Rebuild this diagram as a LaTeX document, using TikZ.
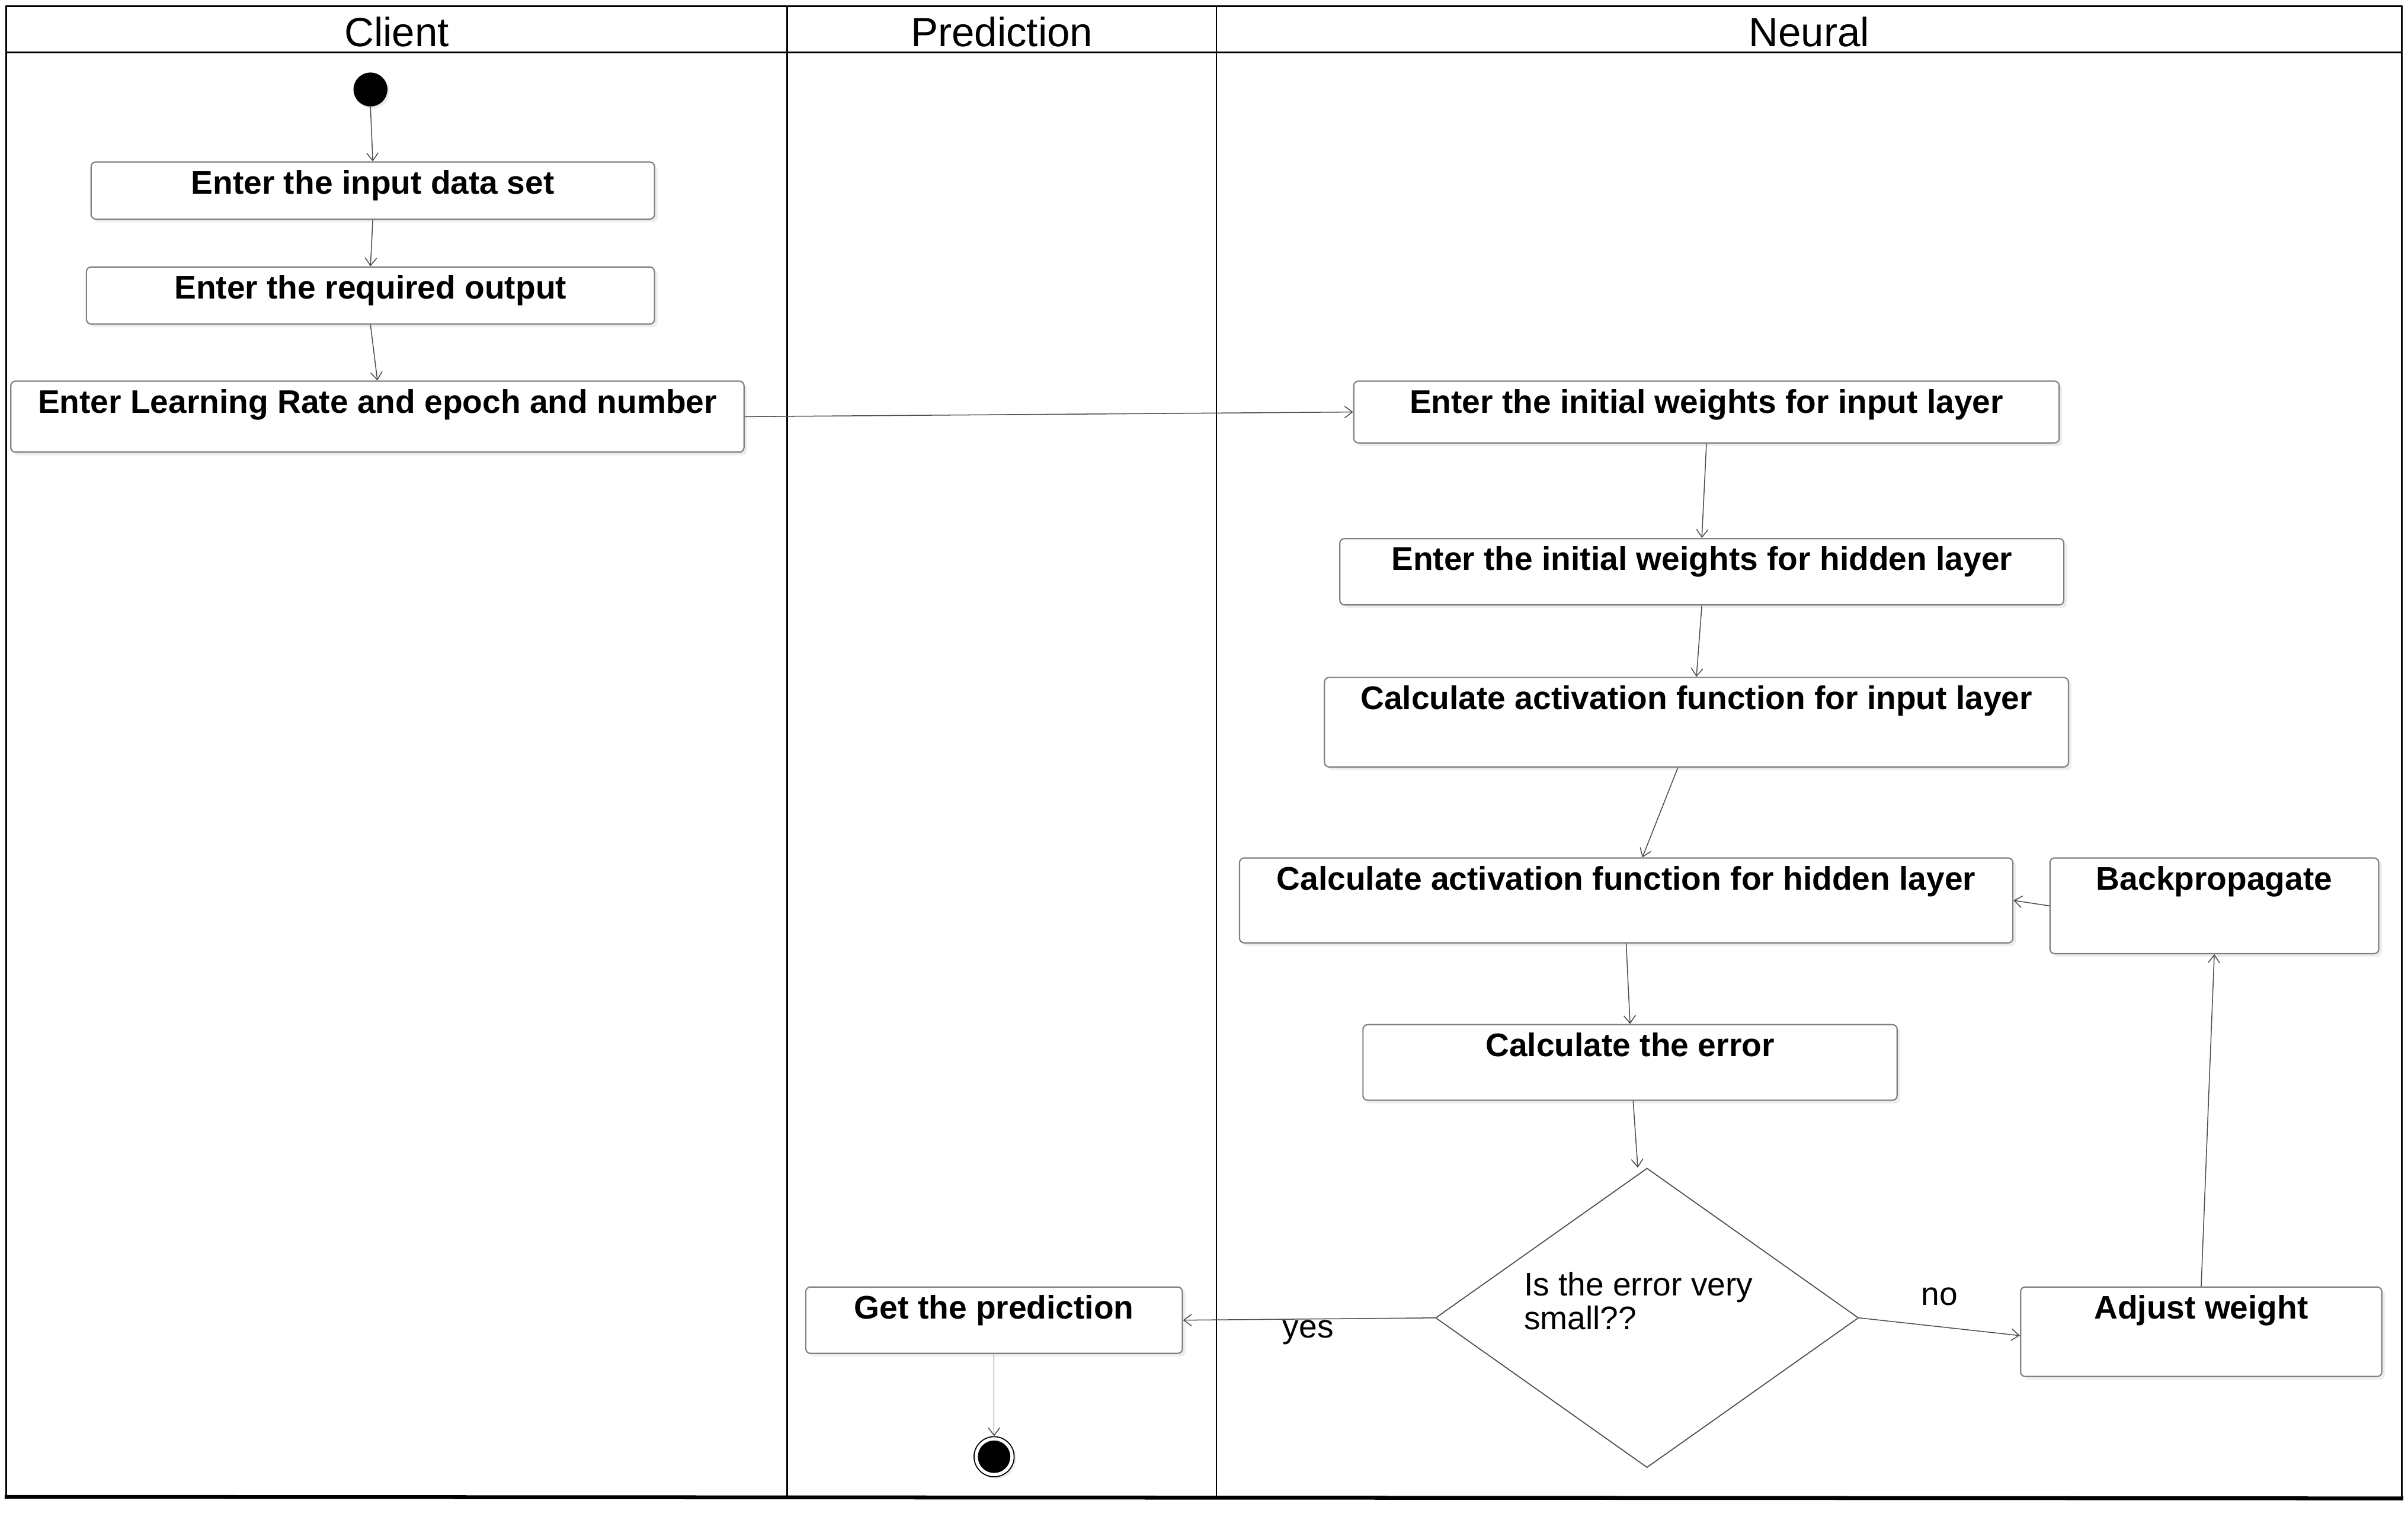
\documentclass[tikz,border=0pt]{standalone}
\usepackage{fontspec}
\setmainfont{Liberation Sans}
\usetikzlibrary{arrows.meta,shapes.geometric,shadows,calc}
\begin{document}
\begin{tikzpicture}[x=0.6pt,y=-0.6pt,
  box/.style={draw=black!50, line width=0.5pt, rounded corners=1.8pt, fill=white, inner sep=0pt,
    drop shadow={shadow xshift=1.2pt, shadow yshift=-1.2pt, fill=black!7, opacity=1}},
  lbl/.style={anchor=base, font=\bfseries\fontsize{12.7pt}{15pt}\selectfont, inner sep=0pt},
  txt/.style={font=\fontsize{12.7pt}{13.2pt}\selectfont, inner sep=0pt},
  hdr/.style={anchor=base, font=\fontsize{15.9pt}{18pt}\selectfont, inner sep=0pt},
  flow/.style={draw=black!70, line width=0.35pt, -{Straight Barb[length=3pt,width=4.5pt]}},
  lane/.style={draw=black, line width=0.6pt}]
\useasboundingbox (0,0) rectangle (1560,983);
% frame and lanes
\draw[lane] (4,970) -- (4,4) -- (1556,4) -- (1556,970);
\draw[line width=1.5pt] (3,970) -- (1557,971);
\draw[lane] (4,34) -- (1556,34);
\draw[lane] (510,4) -- (510,970);
\draw[lane] (788,4) -- (788,970);
\node[hdr] (hc) at (257,30) {Client};
\node[hdr] (hp) at (649,30) {Prediction};
\node[hdr] (hn) at (1172,30) {Neural};
% start
\node[circle, fill=black, minimum size=13.2pt, inner sep=0pt,
  drop shadow={shadow xshift=0.8pt, shadow yshift=-0.8pt, fill=black!8, opacity=1}] (start) at (240,58) {};
% boxes
\node[box, minimum width=219pt, minimum height=22.2pt] (b2) at (241.5,123.5) {};
\node[lbl] at ([yshift=-12.6pt]b2.north) {Enter the input data set};
\node[box, minimum width=220.8pt, minimum height=22.2pt] (b3) at (240,191.5) {};
\node[lbl] at ([yshift=-12.6pt]b3.north) {Enter the required output};
\node[box, minimum width=285pt, minimum height=27.6pt] (b4) at (244.5,270) {};
\node[lbl] at ([yshift=-12.6pt]b4.north) {Enter Learning Rate and epoch and number};
\node[box, minimum width=274.2pt, minimum height=24pt] (b5) at (1105.5,267) {};
\node[lbl] at ([yshift=-12.6pt]b5.north) {Enter the initial weights for input layer};
\node[box, minimum width=281.4pt, minimum height=25.8pt] (b6) at (1102.5,370.5) {};
\node[lbl] at ([yshift=-12.6pt]b6.north) {Enter the initial weights for hidden layer};
\node[box, minimum width=289.2pt, minimum height=34.8pt] (b7) at (1099,468) {};
\node[lbl] at ([yshift=-12.6pt]b7.north) {Calculate activation function for input layer};
\node[box, minimum width=300.6pt, minimum height=33pt] (b8) at (1053.5,583.5) {};
\node[lbl] at ([yshift=-12.6pt]b8.north) {Calculate activation function for hidden layer};
\node[box, minimum width=127.8pt, minimum height=37.2pt] (b9) at (1434.5,587) {};
\node[lbl] at ([yshift=-12.6pt]b9.north) {Backpropagate};
\node[box, minimum width=207.6pt, minimum height=29.4pt] (b10) at (1056,688.5) {};
\node[lbl] at ([yshift=-12.6pt]b10.north) {Calculate the error};
\node[box, minimum width=140.4pt, minimum height=34.8pt] (b12) at (1426,863) {};
\node[lbl] at ([yshift=-12.6pt]b12.north) {Adjust weight};
\node[box, minimum width=146.4pt, minimum height=25.8pt] (b13) at (644,855.5) {};
\node[lbl] at ([yshift=-12.6pt]b13.north) {Get the prediction};
% decision
\node[draw=black!70, line width=0.4pt, diamond, minimum width=164.4pt, minimum height=116.4pt, inner sep=0pt] (dia) at (1067,854) {};
\node[txt, anchor=west, align=left] (q) at (987,843) {Is the error very\\small??};
% end
\node[circle, draw=black, line width=0.4pt, fill=white, minimum size=15.6pt, inner sep=0pt,
  drop shadow={shadow xshift=0.8pt, shadow yshift=-0.8pt, fill=black!8, opacity=1}] (end) at (644,944) {};
\node[circle, fill=black, minimum size=12.6pt, inner sep=0pt] (endin) at (end) {};
% connectors
\draw[flow] (start.south) -- (b2.north);
\draw[flow] (b2.south) -- (b3.north);
\draw[flow] (b3.south) -- (b4.north);
\draw[flow] (b4.east) -- (b5.west);
\draw[flow] (b5.south) -- (b6.north);
\draw[flow] (b6.south) -- (b7.north);
\draw[flow] ([xshift=-7.2pt]b7.south) -- ([xshift=6.3pt]b8.north);
\draw[flow] (b8.south) -- (b10.north);
\draw[flow] ([xshift=1.2pt]b10.south) -- ([xshift=-3.6pt]dia.north);
\draw[flow] (dia.west) -- (b13.east);
\draw[flow] (dia.east) -- ([yshift=-1.5pt]b12.west);
\draw[flow] (b12.north) -- (b9.south);
\draw[flow] (b9.west) -- (b8.east);
\draw[flow] (b13.south) -- (end.north);
\node[txt, anchor=base] (yes) at (847.5,867) {yes};
\node[txt, anchor=base] (no) at (1256.5,846) {no};
\end{tikzpicture}
\end{document}
